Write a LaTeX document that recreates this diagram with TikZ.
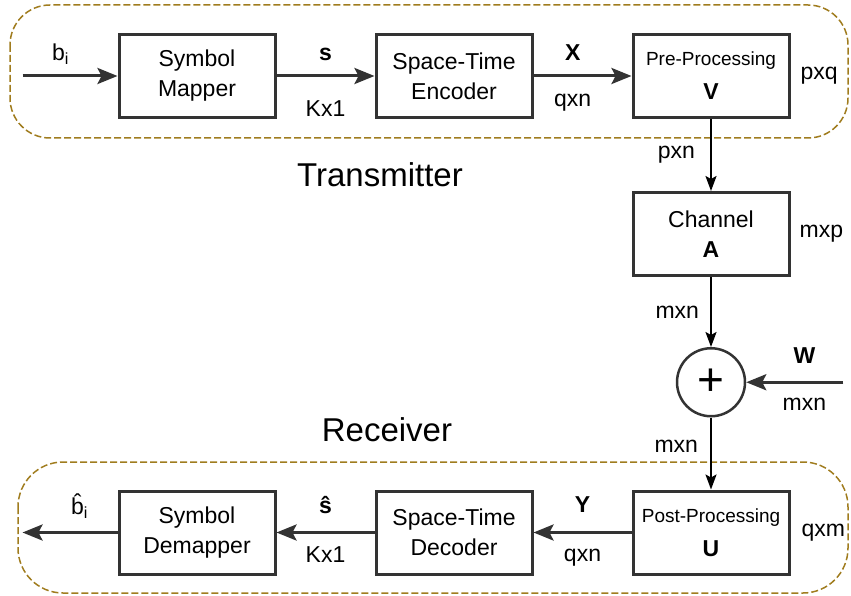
\documentclass[tikz,border=0pt]{standalone}
\usepackage{fontspec}
\setmainfont{Liberation Sans}
\usepackage{tikz}
\usepackage{xcolor}
\usetikzlibrary{positioning}
\usetikzlibrary{arrows.meta}

\definecolor{boxgray}{RGB}{51,51,51}
\definecolor{groupgold}{RGB}{160,124,30}

\tikzset{
  block/.style={draw=boxgray, line width=3pt, minimum width=156pt, minimum height=83pt, align=center, inner sep=0pt, font=\fontsize{23}{30}\selectfont},
  hflow/.style={line width=3pt, draw=boxgray, >={Stealth[length=20pt, width=16pt, inset=4pt]}, ->},
  vflow/.style={line width=2pt, >={Stealth[length=15pt, width=11pt, inset=3pt]}, ->},
  dim/.style={inner sep=0pt, font=\fontsize{23}{23}\selectfont},
  sig/.style={inner sep=0pt, font=\fontsize{23}{23}\selectfont\bfseries},
  group/.style={draw=groupgold, line width=1.5pt, dash pattern=on 7pt off 3pt},
  title/.style={inner sep=0pt, anchor=base, font=\fontsize{33}{33}\selectfont}
}

\begin{document}
\begin{tikzpicture}[x=1pt, y=-1pt]
        \useasboundingbox (0,0) rectangle (851,596);

        \draw[group, rounded corners=40pt] (10,5) rectangle (848,138);
        \draw[group, rounded corners=45pt] (18,462) rectangle (848,593);
        \node[title] (tx_label) at (380,187) {Transmitter};
        \node[title] (rx_label) at (387,441) {Receiver};

        \node[block] (symbol_mapper) at (197,76) {Symbol\\Mapper};
        \node[block, right=98pt of symbol_mapper] (st_encoder) {Space-Time\\Encoder};
        \node[block, right=98pt of st_encoder] (pre_processing) {{\fontsize{19}{19}\selectfont Pre-Processing}\\[4pt]\textbf{V}};
        \node[block, below=72pt of pre_processing] (channel) {Channel\\\textbf{A}};
        \node[draw=boxgray, circle, line width=2.5pt, minimum size=68pt, inner sep=0pt, font=\fontsize{46}{46}\selectfont, below=70pt of channel] (adder) {+};
        \node[block, below=72pt of adder] (post_processing) {{\fontsize{19}{19}\selectfont Post-Processing}\\[4pt]\textbf{U}};
        \node[block, left=98pt of post_processing] (st_decoder) {Space-Time\\Decoder};
        \node[block, left=98pt of st_decoder] (symbol_demapper) {Symbol\\Demapper};

        \coordinate[left=95pt of symbol_mapper] (bits_in);
        \coordinate[left=95pt of symbol_demapper] (bits_out);
        \coordinate[right=97pt of adder] (noise_in);

        \node[dim, right=10pt of pre_processing] (dim_pre) {pxq};
        \node[dim, right=9pt of channel] (dim_channel) {mxp};
        \node[dim, right=11pt of post_processing] (dim_post) {qxm};

        \draw[hflow] (bits_in) -- (symbol_mapper) node[dim, pos=0.4, above=10pt] (lbl_b) {b\textsubscript{i}};
        \draw[hflow] (symbol_mapper) -- (st_encoder) node[sig, midway, above=14pt] (lbl_s) {s} node[dim, midway, below=23pt] (dim_s) {Kx1};
        \draw[hflow] (st_encoder) -- (pre_processing) node[sig, pos=0.4, above=14pt] (lbl_x) {X} node[dim, pos=0.4, below=17pt] (dim_x) {qxn};
        \draw[vflow] (pre_processing) -- (channel) node[dim, midway, left=15pt] (dim_v) {pxn};
        \draw[vflow] (channel) -- (adder) node[dim, midway, left=11pt] (dim_a) {mxn};
        \draw[hflow] (noise_in) -- (adder) node[sig, pos=0.4, above=17pt] (lbl_w) {W} node[dim, pos=0.4, below=14pt] (dim_w) {mxn};
        \draw[vflow] (adder) -- (post_processing) node[dim, pos=0.4, left=12pt] (dim_sum) {mxn};
        \draw[hflow] (post_processing) -- (st_decoder) node[sig, midway, above=19pt] (lbl_y) {Y} node[dim, midway, below=15pt] (dim_y) {qxn};
        \draw[hflow] (st_decoder) -- (symbol_demapper) node[sig, midway, above=17pt] (lbl_shat) {\^{s}} node[dim, midway, below=13pt] (dim_shat) {Kx1};
        \draw[hflow] (symbol_demapper) -- (bits_out) node[dim, pos=0.4, above=13pt] (lbl_bhat) {\^{b}\textsubscript{i}};
\end{tikzpicture}
\end{document}
